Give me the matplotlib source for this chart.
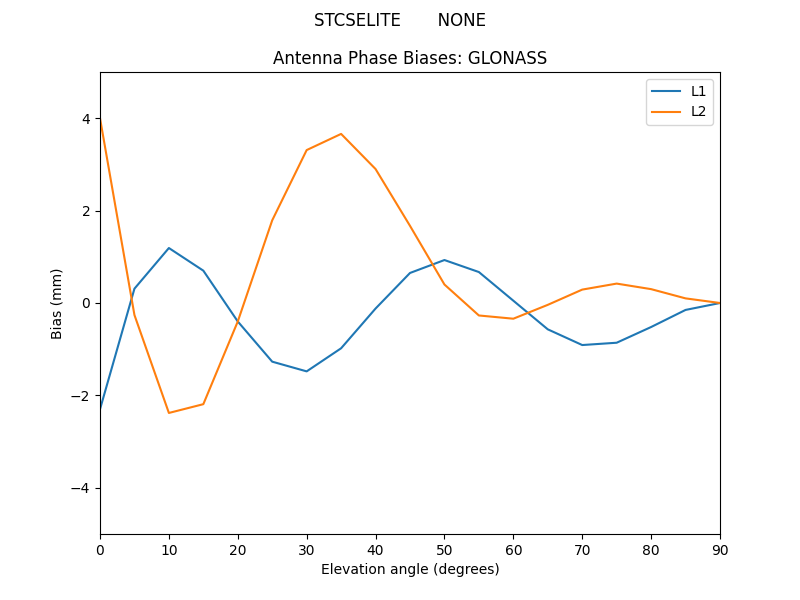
import matplotlib
matplotlib.use("Agg")
import matplotlib.pyplot as plt

elev = [0, 5, 10, 15, 20, 25, 30, 35, 40, 45, 50, 55, 60, 65, 70, 75, 80, 85, 90]
l1 = [-2.30, 0.31, 1.19, 0.70, -0.40, -1.27, -1.48, -0.98, -0.12, 0.65, 0.93, 0.67, 0.05, -0.57, -0.91, -0.86, -0.52, -0.15, 0.0]
l2 = [4.0, -0.26, -2.38, -2.19, -0.40, 1.79, 3.31, 3.66, 2.90, 1.67, 0.40, -0.27, -0.34, -0.04, 0.29, 0.42, 0.30, 0.10, 0.0]

fig, ax = plt.subplots(figsize=(8, 6), dpi=100)
ax.plot(elev, l1, label="L1")
ax.plot(elev, l2, label="L2")
ax.set_xlim(0, 90)
ax.set_ylim(-5, 5)
ax.set_xlabel("Elevation angle (degrees)")
ax.set_ylabel("Bias (mm)")
ax.set_title("Antenna Phase Biases: GLONASS")
fig.suptitle("STCSELITE       NONE")
ax.legend(loc="upper right")
fig.savefig("out.png")
